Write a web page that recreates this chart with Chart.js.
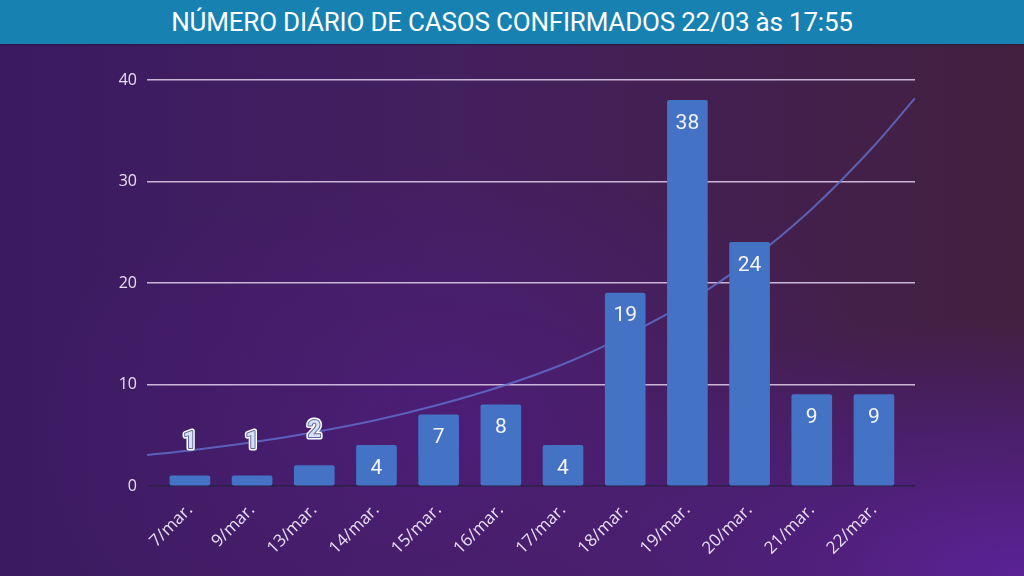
<!DOCTYPE html>
<html lang="pt-BR">
<head>
<meta charset="utf-8">
<title>Número diário de casos confirmados</title>
<script src="https://cdn.jsdelivr.net/npm/chart.js@4.4.1/dist/chart.umd.min.js"></script>
<style>
  html, body { margin: 0; padding: 0; width: 1024px; height: 576px; overflow: hidden; }
  body {
    font-family: Roboto, "Noto Sans", sans-serif;
    background:
      radial-gradient(ellipse 70% 60% at 100% 100%, rgba(92, 34, 156, 0.95) 0%, rgba(80, 30, 140, 0.5) 45%, rgba(80, 30, 140, 0) 75%),
      radial-gradient(ellipse 60% 70% at 45% 75%, rgba(80, 28, 130, 0.7) 0%, rgba(80, 28, 130, 0) 70%),
      linear-gradient(to right, #3c1a62 0%, #43205e 45%, #43203f 100%);
  }
  #titulo {
    height: 44px;
    line-height: 44px;
    background: #1781b2;
    color: #ffffff;
    text-align: center;
    font-size: 26px;
    letter-spacing: -0.2px;
    box-shadow: 0 1px 2px rgba(0,0,0,0.3);
  }
  #grafico { display: block; }
</style>
</head>
<body>
<div id="titulo">NÚMERO DIÁRIO DE CASOS CONFIRMADOS 22/03 às 17:55</div>
<canvas id="grafico" width="1024" height="532"></canvas>
<script>
// Dados
const categorias = ['7/mar.', '9/mar.', '13/mar.', '14/mar.', '15/mar.', '16/mar.', '17/mar.', '18/mar.', '19/mar.', '20/mar.', '21/mar.', '22/mar.'];
const casos = [1, 1, 2, 4, 7, 8, 4, 19, 38, 24, 9, 9];
const yTicks = [0, 10, 20, 30, 40];

// Linha de tendência (valores estimados na imagem)
const tendenciaX = [-0.69, 0, 1, 2, 3, 4, 5, 6, 7, 8, 9, 10, 11, 11.66];
const tendenciaY = [3.05, 3.5, 4.3, 5.3, 6.5, 8.0, 9.8, 12.0, 14.8, 18.1, 22.2, 27.3, 33.5, 38.2];

document.addEventListener('DOMContentLoaded', function() {
  const ctx = document.getElementById('grafico').getContext('2d');

  // Rótulos de valor nas barras
  const rotulosPlugin = {
    id: 'rotulos',
    afterDatasetsDraw(chart) {
      const meta = chart.getDatasetMeta(0);
      const c = chart.ctx;
      c.save();
      c.textAlign = 'center';
      c.textBaseline = 'middle';
      meta.data.forEach((bar, i) => {
        const v = casos[i];
        if (v <= 2) {
          c.font = 'bold 23px Roboto';
          c.lineJoin = 'round';
          c.strokeStyle = '#ffffff';
          c.lineWidth = 5;
          c.strokeText(String(v), bar.x, bar.y - 34);
          c.strokeStyle = '#5d6aa6';
          c.lineWidth = 2;
          c.strokeText(String(v), bar.x, bar.y - 34);
          c.fillStyle = '#d8e0f2';
          c.fillText(String(v), bar.x, bar.y - 34);
        } else {
          c.font = '21px Roboto';
          c.fillStyle = '#f4f4fa';
          c.fillText(String(v), bar.x, bar.y + 23);
        }
      });
      c.restore();
    }
  };

  new Chart(ctx, {
    type: 'bar',
    data: {
      datasets: [{
        type: 'bar',
        label: 'Casos',
        data: casos.map((v, i) => ({ x: i, y: v })),
        backgroundColor: '#4472c4',
        barThickness: 40,
        borderRadius: 2,
        borderSkipped: false,
        order: 1
      }, {
        type: 'line',
        label: 'Tendência',
        data: tendenciaX.map((x, i) => ({ x: x, y: tendenciaY[i] })),
        borderColor: 'rgba(98, 112, 206, 0.8)',
        borderWidth: 2,
        pointRadius: 0,
        tension: 0.4,
        cubicInterpolationMode: 'monotone',
        fill: false,
        order: 2
      }]
    },
    plugins: [rotulosPlugin],
    options: {
      responsive: false,
      animation: false,
      layout: { padding: { top: 36, right: 109, left: 0, bottom: 0 } },
      plugins: {
        legend: { display: false },
        tooltip: { enabled: false }
      },
      scales: {
        x: {
          type: 'linear',
          offset: false,
          min: -0.69,
          max: 11.66,
          afterBuildTicks: function(scale) {
            scale.ticks = categorias.map((c, i) => ({ value: i }));
          },
          afterFit: function(scale) { scale.height = 90; },
          grid: { display: false, drawTicks: false },
          border: { display: false },
          ticks: {
            autoSkip: false,
            minRotation: 45,
            maxRotation: 45,
            padding: 14,
            color: '#e9def5',
            font: { family: 'Open Sans', size: 17 },
            callback: function(value) { return categorias[value]; }
          }
        },
        y: {
          min: 0,
          max: 40,
          afterBuildTicks: function(scale) {
            scale.ticks = yTicks.map(v => ({ value: v }));
          },
          afterFit: function(scale) { scale.width = 147; },
          grid: {
            drawTicks: false,
            lineWidth: 1.5,
            color: function(c) { return c.tick && c.tick.value === 0 ? '#2e1f48' : '#cbb6d8'; }
          },
          border: { display: false },
          ticks: {
            padding: 10,
            color: '#e9def5',
            font: { family: 'Open Sans', size: 16 }
          }
        }
      }
    }
  });
});
</script>
</body>
</html>
